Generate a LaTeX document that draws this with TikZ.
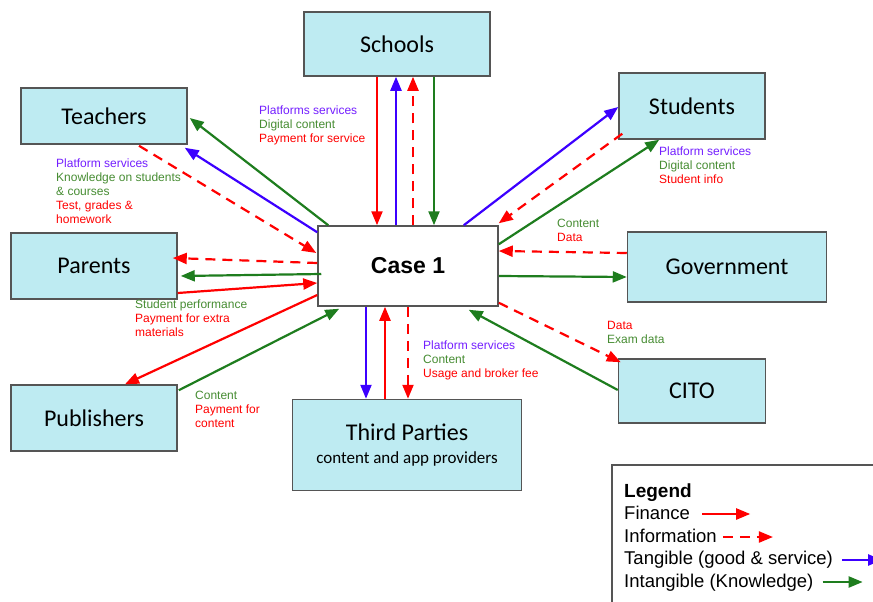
\documentclass[tikz,border=0pt]{standalone}
\usepackage{fontspec}
\setmainfont{Liberation Sans}
\newfontfamily\boxfont{Carlito}
\usepackage{tikz}
\usetikzlibrary{arrows.meta, calc, positioning}
\usepackage{xcolor}
\definecolor{boxfill}{RGB}{190,235,242}
\definecolor{boxline}{RGB}{85,85,85}
\definecolor{finred}{RGB}{255,0,0}
\definecolor{tanblue}{RGB}{60,0,255}
\definecolor{intgreen}{RGB}{30,125,30}
\definecolor{labblue}{RGB}{115,30,255}
\definecolor{labgreen}{RGB}{70,140,50}

\begin{document}
\begin{tikzpicture}[x=1pt, y=-1pt,
    box/.style={draw=boxline, line width=1.5pt, fill=boxfill, inner sep=0pt, font=\boxfont\fontsize{24}{28}\selectfont},
    flow/.style={line width=2.2pt, -{Triangle[length=14pt,width=11pt]}},
    finance/.style={flow, finred},
    information/.style={flow, finred, dash pattern=on 10pt off 7pt},
    tangible/.style={flow, tanblue},
    intangible/.style={flow, intgreen},
    lab/.style={anchor=north west, inner sep=0pt, align=left, font=\fontsize{12}{14}\selectfont},
    legtext/.style={anchor=base west, inner sep=0pt, font=\fontsize{18.5}{22}\selectfont}]
    \useasboundingbox (0,0) rectangle (873,602);
    \clip (0,0) rectangle (873,602);

    % actors
    \node[box, minimum width=186pt, minimum height=64pt] (schools) at (397,44) {Schools};
    \node[box, minimum width=166pt, minimum height=56pt] (teachers) at (104,116) {Teachers};
    \node[box, minimum width=166pt, minimum height=66pt] (parents) at (94,266) {Parents};
    \node[box, minimum width=166pt, minimum height=66pt] (publishers) at (94,418) {Publishers};
    \node[box, minimum width=229pt, minimum height=91pt, align=center] (third) at (407,445)
        {Third Parties\\[-5pt]{\fontsize{17}{20}\selectfont content and app providers}};
    \node[box, minimum width=146pt, minimum height=66pt] (students) at (692,106) {Students};
    \node[box, minimum width=199pt, minimum height=70pt] (government) at (727,267) {Government};
    \node[box, minimum width=147pt, minimum height=64pt] (cito) at (692,391) {CITO};
    \node[box, fill=white, minimum width=180pt, minimum height=80pt,
          font=\normalfont\bfseries\fontsize{23}{27}\selectfont] (case) at (408,266) {Case 1};

    % schools
    \draw[finance] ($(case.north |- schools.south)+(-31,0)$) -- ($(case.north)+(-31,0)$);
    \draw[tangible] ($(case.north)+(-12,0)$) -- ($(case.north |- schools.south)+(-12,0)$);
    \draw[information] ($(case.north)+(5,0)$) -- ($(case.north |- schools.south)+(5,0)$);
    \draw[intangible] ($(case.north |- schools.south)+(26,0)$) -- ($(case.north)+(26,0)$);
    \node[lab] (schoolslab) at (259,106) {\textcolor{labblue}{Platforms services}\\
        \textcolor{labgreen}{Digital content}\\\textcolor{finred}{Payment for service}};

    % teachers
    \draw[intangible] ($(case.north west)+(11,0)$) -- ($(teachers.east)+(2,2)$);
    \draw[tangible] ($(case.north west)+(0,7)$) -- ($(teachers.south east)+(-3,3)$);
    \draw[information] ($(teachers.south)+(35,1)$) -- ($(case.west)+(-1,-13)$);
    \node[lab] (teacherslab) at (56,159) {\textcolor{labblue}{Platform services}\\
        \textcolor{labgreen}{Knowledge on students}\\\textcolor{labgreen}{\& courses}\\
        \textcolor{finred}{Test, grades \&}\\\textcolor{finred}{homework}};

    % parents
    \draw[information] ($(case.west)+(0,-3)$) -- ($(parents.east)+(-5,-8)$);
    \draw[intangible] ($(case.west)+(4,8)$) -- ($(parents.east)+(3,10)$);
    \draw[finance] ($(parents.east)+(0,27)$) -- ($(case.west)+(0,17)$);
    \node[lab] (parentslab) at (135,300) {\textcolor{labgreen}{Student performance}\\
        \textcolor{finred}{Payment for extra}\\\textcolor{finred}{materials}};

    % publishers
    \draw[finance] ($(case.west)+(0,29)$) -- ($(publishers.north)+(31,0)$);
    \draw[intangible] ($(publishers.north east)+(1,6)$) -- ($(case.south west)+(22,2)$);
    \node[lab] (publisherslab) at (195,391) {\textcolor{labgreen}{Content}\\
        \textcolor{finred}{Payment for}\\\textcolor{finred}{content}};

    % students
    \draw[tangible] ($(case.north east)+(-35,0)$) -- ($(students.west)+(0,1)$);
    \draw[information] ($(students.south west)+(4,-6)$) -- ($(case.north east)+(0,-2)$);
    \draw[intangible] ($(case.north east)+(0,19)$) -- ($(students.south west)+(41,0)$);
    \node[lab] (studentslab) at (659,147) {\textcolor{labblue}{Platform services}\\
        \textcolor{labgreen}{Digital content}\\\textcolor{finred}{Student info}};

    % government
    \draw[information] ($(government.west)+(0,-14)$) -- ($(case.east)+(0,-15)$);
    \draw[intangible] ($(case.east)+(0,10)$) -- ($(government.west)+(0,10)$);
    \node[lab] (governmentlab) at (557,219) {\textcolor{labgreen}{Content}\\\textcolor{finred}{Data}};

    % cito
    \draw[information] ($(case.south east)+(0,-4)$) -- ($(cito.north west)+(3,4)$);
    \draw[intangible] ($(cito.west)+(0,-1)$) -- ($(case.south east)+(-30,3)$);
    \node[lab] (citolab) at (607,321) {\textcolor{finred}{Data}\\\textcolor{labgreen}{Exam data}};

    % third parties
    \draw[tangible] ($(case.south)+(-42,0)$) -- ($(case.south |- third.north)+(-42,0)$);
    \draw[finance] ($(case.south |- third.north)+(-23,0)$) -- ($(case.south)+(-23,0)$);
    \draw[information] (case.south) -- (case.south |- third.north);
    \node[lab] (thirdlab) at (423,341) {\textcolor{labblue}{Platform services}\\
        \textcolor{labgreen}{Content}\\\textcolor{finred}{Usage and broker fee}};

    % legend
    \draw[boxline, line width=1.5pt, fill=white] (612,465) rectangle (900,630);
    \node[legtext, font=\bfseries\fontsize{19}{22}\selectfont] (legtitle) at (624,497) {Legend};
    \node[legtext] (legfin) at (624,519) {Finance};
    \node[legtext] (leginf) at (624,542) {Information};
    \node[legtext] (legtan) at (624,564) {Tangible (good \& service)};
    \node[legtext] (legint) at (624,587) {Intangible (Knowledge)};
    \draw[finance] ($(legfin.base east)+(12,-5)$) -- ($(legfin.base east)+(60,-5)$);
    \draw[information] ($(leginf.base east)+(6,-5)$) -- ($(leginf.base east)+(56,-5)$);
    \draw[tangible] ($(legtan.base east)+(9,-4)$) -- ($(legtan.base east)+(49,-4)$);
    \draw[intangible] ($(legint.base east)+(9,-5)$) -- ($(legint.base east)+(49,-5)$);
\end{tikzpicture}
\end{document}
